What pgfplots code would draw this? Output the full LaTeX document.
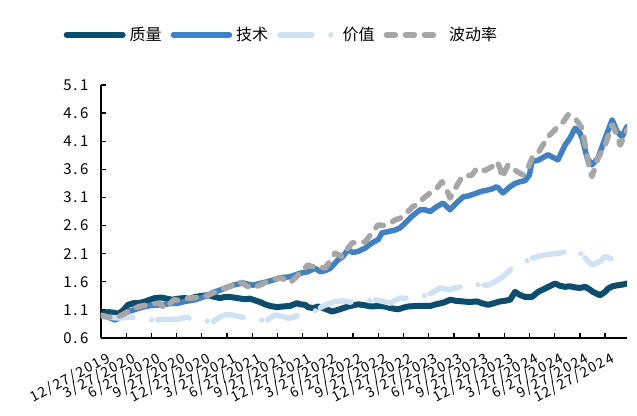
\documentclass[border=0pt]{standalone}
\usepackage{pgfplots}
\pgfplotsset{compat=1.18}
\usepackage{pgfplotstable}
\usepackage{fontspec}
\setmainfont{Noto Sans CJK SC}
\newfontfamily\tickfont[LetterSpace=12]{Noto Sans CJK SC}

\definecolor{cnavy}{RGB}{12,76,108}
\definecolor{cblue}{RGB}{65,129,193}
\definecolor{clight}{RGB}{207,226,243}
\definecolor{cgray}{RGB}{166,166,166}

\pgfplotstableread{
q v
0 1.00
0.15 1.05
0.3 1.06
0.5 1.05
0.7 1.03
0.9 1.10
1.07 1.19
1.3 1.22
1.5 1.22
1.75 1.25
2.0 1.29
2.14 1.31
2.4 1.32
2.6 1.30
2.82 1.28
3.06 1.30
3.33 1.31
3.5 1.29
3.73 1.33
4.0 1.35
4.25 1.36
4.44 1.34
4.52 1.33
4.72 1.31
4.92 1.33
5.12 1.33
5.4 1.31
5.71 1.29
5.9 1.30
6.1 1.27
6.31 1.24
6.5 1.20
6.71 1.17
6.98 1.15
7.2 1.16
7.5 1.17
7.78 1.22
7.9 1.20
8.1 1.19
8.21 1.15
8.41 1.13
8.61 1.16
8.89 1.12
9.17 1.07
9.4 1.10
9.6 1.13
9.8 1.16
10.2 1.20
10.48 1.18
10.75 1.16
11.0 1.17
11.27 1.16
11.5 1.13
11.79 1.11
12.0 1.14
12.18 1.16
12.5 1.17
12.86 1.17
13.06 1.17
13.3 1.20
13.6 1.23
13.85 1.28
14.1 1.26
14.37 1.25
14.6 1.24
14.92 1.25
15.1 1.22
15.36 1.19
15.6 1.22
15.83 1.25
16.0 1.26
16.23 1.28
16.43 1.42
16.6 1.37
16.83 1.33
17.1 1.33
17.34 1.42
17.62 1.48
17.8 1.52
18.02 1.57
18.2 1.53
18.41 1.51
18.6 1.52
18.81 1.50
19.0 1.49
19.21 1.51
19.4 1.46
19.52 1.42
19.8 1.36
20.0 1.42
20.12 1.48
20.3 1.52
20.52 1.54
20.7 1.55
20.87 1.57
}\quality

\pgfplotstableread{
q v
0 1.00
0.28 0.97
0.56 0.92
0.8 0.98
1.07 1.07
1.3 1.10
1.5 1.13
1.75 1.16
2.0 1.18
2.42 1.19
2.7 1.21
3.06 1.22
3.33 1.25
3.73 1.28
4.0 1.32
4.25 1.36
4.44 1.41
4.72 1.45
5.0 1.50
5.24 1.54
5.63 1.58
5.9 1.55
6.03 1.54
6.31 1.57
6.59 1.60
6.9 1.64
7.1 1.67
7.5 1.69
7.9 1.75
8.21 1.78
8.49 1.84
8.7 1.78
8.9 1.80
9.1 1.84
9.4 1.99
9.6 2.05
9.8 2.17
10.0 2.12
10.2 2.14
10.48 2.20
10.75 2.29
11.0 2.35
11.15 2.47
11.47 2.50
11.67 2.52
11.87 2.56
12.06 2.64
12.3 2.75
12.66 2.88
12.86 2.88
13.06 2.85
13.3 2.93
13.57 3.00
13.85 2.88
14.1 3.00
14.37 3.11
14.6 3.13
14.92 3.18
15.1 3.21
15.32 3.23
15.5 3.25
15.71 3.29
15.95 3.18
16.23 3.29
16.43 3.35
16.63 3.38
16.83 3.40
17.0 3.50
17.1 3.74
17.34 3.76
17.5 3.80
17.74 3.86
17.9 3.82
18.13 3.77
18.41 4.03
18.6 4.15
18.81 4.33
19.0 4.25
19.09 4.15
19.29 3.80
19.48 3.68
19.72 3.80
20.0 4.15
20.28 4.48
20.48 4.27
20.67 4.18
20.87 4.36
}\technology

\pgfplotstableread{
q v
0 1.00
0.28 0.97
0.56 0.96
0.9 0.96
1.2 0.97
1.47 0.96
1.8 0.93
2.14 0.92
2.5 0.93
2.8 0.93
3.1 0.94
3.4 0.97
3.7 0.92
3.9 0.94
4.2 0.90
4.44 0.89
4.7 0.97
4.92 1.01
5.2 1.01
5.5 0.98
5.79 0.95
6.0 0.97
6.3 0.92
6.59 0.92
6.9 1.01
7.2 0.98
7.5 0.95
7.8 1.00
8.02 1.04
8.2 1.04
8.4 1.06
8.6 1.10
8.77 1.16
9.0 1.20
9.29 1.25
9.6 1.26
9.88 1.24
10.2 1.22
10.5 1.25
10.87 1.28
11.2 1.25
11.47 1.22
11.87 1.31
12.26 1.31
12.34 1.33
12.6 1.33
12.9 1.36
13.13 1.40
13.45 1.49
13.85 1.46
14.25 1.51
14.56 1.58
14.9 1.55
15.36 1.54
15.63 1.60
15.95 1.69
16.23 1.81
16.43 1.90
16.7 1.93
17.1 2.02
17.62 2.08
18.02 2.10
18.3 2.12
18.6 2.15
18.89 2.17
19.21 2.02
19.48 1.90
19.8 1.96
20.0 2.05
20.3 2.00
20.48 1.96
20.87 2.02
}\valuefactor

\pgfplotstableread{
q v
0 1.00
0.28 0.97
0.56 0.96
0.8 1.00
1.07 1.07
1.3 1.12
1.5 1.16
1.75 1.18
2.0 1.20
2.3 1.22
2.42 1.18
2.5 1.13
2.7 1.20
2.9 1.28
3.1 1.27
3.33 1.30
3.6 1.31
3.93 1.33
4.25 1.36
4.44 1.40
4.72 1.45
5.0 1.50
5.24 1.54
5.40 1.61
5.6 1.58
5.8 1.52
6.03 1.49
6.2 1.52
6.59 1.60
6.9 1.65
7.1 1.67
7.3 1.64
7.5 1.58
7.78 1.70
8.0 1.80
8.21 1.90
8.37 1.87
8.6 1.88
8.89 1.84
9.1 1.98
9.29 2.11
9.56 2.05
9.8 2.20
9.96 2.29
10.2 2.30
10.48 2.31
10.6 2.38
10.8 2.50
10.99 2.61
11.27 2.60
11.5 2.65
11.67 2.70
11.87 2.73
12.18 2.85
12.38 2.94
12.54 2.97
12.66 3.03
12.86 3.11
13.06 3.18
13.33 3.27
13.53 3.38
13.7 3.25
13.85 3.09
14.13 3.32
14.33 3.47
14.72 3.50
14.92 3.62
15.24 3.58
15.52 3.65
15.71 3.74
15.85 3.60
15.91 3.45
16.15 3.68
16.35 3.60
16.51 3.56
16.75 3.50
16.94 3.62
17.10 3.80
17.34 3.89
17.74 4.18
18.13 4.36
18.35 4.45
18.53 4.57
18.81 4.51
19.09 4.33
19.21 4.03
19.40 3.56
19.48 3.47
19.72 3.80
20.0 4.03
20.28 4.39
20.48 4.21
20.60 4.03
20.87 4.30
}\volatility

\begin{document}
\begin{tikzpicture}
\begin{axis}[
  name=ax,
  scale only axis,
  width=526pt, height=253pt,
  xmin=0, xmax=20.87, ymin=0.6, ymax=5.1,
  axis lines=left,
  axis line style={-, line width=1.5pt, black},
  tick align=inside,
  major tick length=5pt,
  tick style={line width=1.3pt, black},
  xtick={0,1,...,20},
  xticklabels={12/27/2019,3/27/2020,6/27/2020,9/27/2020,12/27/2020,3/27/2021,6/27/2021,9/27/2021,12/27/2021,3/27/2022,6/27/2022,9/27/2022,12/27/2022,3/27/2023,6/27/2023,9/27/2023,12/27/2023,3/27/2024,6/27/2024,9/27/2024,12/27/2024},
  xticklabel style={font=\tickfont\fontsize{14}{14}\selectfont, rotate=28, anchor=north east, inner sep=0pt, yshift=-14pt, xshift=-2pt},
  ytick={0.6,1.1,1.6,2.1,2.6,3.1,3.6,4.1,4.6,5.1},
  yticklabels={0.\,6,1.\,1,1.\,6,2.\,1,2.\,6,3.\,1,3.\,6,4.\,1,4.\,6,5.\,1},
  yticklabel style={font=\tickfont\fontsize{15}{15}\selectfont, xshift=-9pt},
  legend columns=4,
  legend style={draw=none, fill=none, at={(0.343,1.198)}, anchor=center,
    font=\fontsize{16}{18}\selectfont,
    /tikz/every odd column/.style={column sep=2pt},
    /tikz/every even column/.style={column sep=7pt}},
  legend image code/.code={\draw[#1] (0pt,0pt) -- (56pt,0pt);},
  every axis plot/.append style={line cap=round, line join=round, no markers},
]
\addplot[cnavy, line width=6pt] table[x=q, y=v] {\quality};
\addlegendentry{质量}
\addplot[cblue, line width=5.5pt] table[x=q, y=v] {\technology};
\addlegendentry{技术}
\addplot[clight, line width=5.5pt, dash pattern=on 32pt off 19pt on 0pt off 6pt] table[x=q, y=v] {\valuefactor};
\addlegendentry{价值}
\addplot[cgray, line width=5.5pt, dash pattern=on 9pt off 10pt] table[x=q, y=v] {\volatility};
\addlegendentry{波动率}
\end{axis}
\pgfresetboundingbox
\path[use as bounding box] ([shift={(-101pt,-78pt)}]ax.south west) rectangle ([shift={(10pt,85pt)}]ax.north east);
\end{tikzpicture}
\end{document}
